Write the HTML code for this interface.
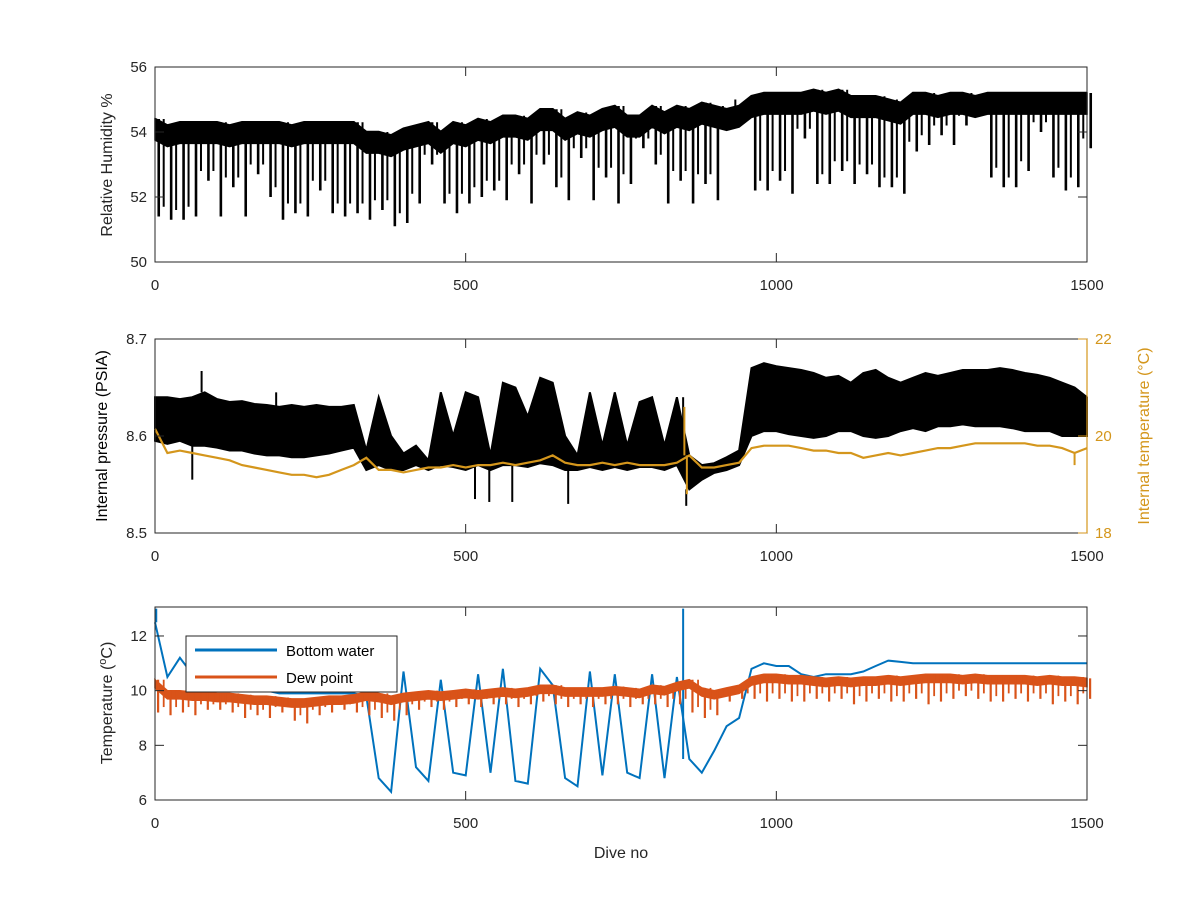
<!DOCTYPE html>
<html><head><meta charset="utf-8">
<style>
html,body{margin:0;padding:0;background:#fff;}
svg{display:block;font-family:"Liberation Sans",Arial,sans-serif;}
</style></head>
<body>
<svg id="fig" width="1200" height="900" viewBox="0 0 1200 900" xmlns="http://www.w3.org/2000/svg">
<rect width="1200" height="900" fill="#fff"/>
</svg>
<script>
// Data sampled every 20 dives (0..1500)
const rhTop = [54.4,54.2,54.3,54.3,54.3,54.3,54.2,54.3,54.3,54.3,
54.3,54.2,54.3,54.3,54.3,54.3,54.3,54.0,54.0,53.9,
54.1,54.2,54.3,54.0,54.3,54.2,54.4,54.3,54.5,54.5,
54.4,54.7,54.7,54.4,54.6,54.5,54.7,54.8,54.5,54.5,
54.8,54.6,54.8,54.7,54.9,54.8,54.7,54.8,55.1,55.2,
55.2,55.2,55.2,55.3,55.2,55.3,55.1,55.1,55.1,55.0,
54.9,55.2,55.2,55.1,55.2,55.2,55.1,55.2,55.2,55.2,
55.2,55.2,55.2,55.2,55.2,55.2];
const rhLow = [51.4,51.3,51.3,51.4,52.5,51.4,52.3,51.4,52.7,52.0,
51.3,51.5,51.4,52.2,51.5,51.4,51.5,51.3,51.6,51.1,
51.2,51.8,53.0,51.8,51.5,51.8,52.0,52.2,51.9,52.7,
51.8,53.0,52.3,51.9,53.2,51.9,52.6,51.8,52.4,53.5,
53.0,51.8,52.5,51.8,52.4,51.9,54.3,54.7,52.2,52.2,
52.5,52.1,53.8,52.4,52.4,52.8,52.4,52.7,52.3,52.3,
52.1,53.4,53.6,53.9,53.6,54.2,54.8,52.6,52.3,52.3,
52.8,54.0,52.6,52.2,52.3,53.5];
const presUpper = [8.640,8.640,8.638,8.640,8.645,8.638,8.635,8.636,8.633,8.632,
8.630,8.632,8.630,8.632,8.630,8.630,8.632,8.585,8.640,8.600,
8.582,8.590,8.575,8.645,8.600,8.645,8.640,8.580,8.655,8.650,
8.620,8.660,8.655,8.600,8.580,8.645,8.590,8.645,8.590,8.635,
8.640,8.590,8.640,8.580,8.570,8.572,8.578,8.585,8.670,8.675,
8.672,8.670,8.668,8.665,8.660,8.662,8.655,8.665,8.668,8.660,
8.655,8.660,8.665,8.662,8.665,8.668,8.668,8.668,8.670,8.668,
8.665,8.663,8.660,8.655,8.650,8.640];
const presLower = [8.595,8.592,8.595,8.590,8.590,8.588,8.585,8.585,8.582,8.580,
8.580,8.578,8.578,8.580,8.582,8.585,8.588,8.565,8.570,8.565,
8.565,8.570,8.565,8.570,8.568,8.565,8.570,8.565,8.570,8.570,
8.568,8.572,8.570,8.565,8.565,8.568,8.565,8.568,8.565,8.568,
8.568,8.565,8.570,8.545,8.555,8.562,8.565,8.570,8.600,8.605,
8.605,8.602,8.600,8.598,8.600,8.605,8.605,8.600,8.598,8.600,
8.605,8.608,8.605,8.610,8.610,8.612,8.610,8.610,8.610,8.608,
8.605,8.605,8.605,8.600,8.600,8.600];
const presSpikeDive = [75,195,60,515,538,575,665,855,850];
const presSpikeVal = [8.667,8.645,8.555,8.535,8.532,8.532,8.530,8.528,8.640];
const tempInt = [20.15,19.65,19.7,19.65,19.6,19.55,19.5,19.4,19.35,19.3,
19.25,19.2,19.2,19.15,19.2,19.3,19.4,19.55,19.3,19.3,
19.25,19.3,19.35,19.35,19.4,19.35,19.4,19.4,19.45,19.4,
19.45,19.5,19.6,19.45,19.4,19.4,19.45,19.4,19.45,19.4,
19.4,19.4,19.45,19.6,19.35,19.35,19.4,19.45,19.75,19.8,
19.8,19.8,19.75,19.7,19.7,19.65,19.65,19.55,19.6,19.65,
19.6,19.65,19.7,19.75,19.75,19.8,19.85,19.85,19.85,19.85,
19.85,19.8,19.8,19.75,19.65,19.75];
const tempSpikeDive = [852,856,1480];
const tempSpikeVal = [20.6,18.8,19.4];
const bottomWater = [12.5,10.5,11.2,10.6,10.3,10.2,10.1,10.1,10.0,10.0,
9.9,9.9,9.9,9.9,9.9,9.9,9.9,9.8,6.8,6.3,
10.7,7.2,6.7,10.4,7.0,6.9,10.6,7.0,10.8,6.7,
6.6,10.8,10.2,6.8,6.5,10.7,6.9,10.6,7.0,6.8,
10.6,6.8,10.5,7.5,7.0,7.8,8.7,9.0,10.8,11.0,
10.9,10.9,10.6,10.5,10.6,10.6,10.6,10.7,10.9,11.1,
11.05,11.0,11.0,11.0,11.0,11.0,11.0,11.0,11.0,11.0,
11.0,11.0,11.0,11.0,11.0,11.0];
const bwSpikeDive = [2,850];
const bwSpikeVal = [13,13];
const dewTop = [10.4,10.0,10.0,9.95,9.95,9.9,9.9,9.85,9.8,9.8,
9.75,9.7,9.7,9.75,9.8,9.8,9.85,9.95,9.9,9.8,
9.9,9.95,10.0,9.95,10.0,10.05,10.0,10.05,10.1,10.05,
10.1,10.2,10.2,10.1,10.1,10.1,10.1,10.15,10.1,10.05,
10.2,10.15,10.3,10.4,10.1,10.0,10.1,10.2,10.5,10.6,
10.6,10.55,10.55,10.5,10.45,10.5,10.45,10.5,10.5,10.55,
10.5,10.55,10.6,10.6,10.6,10.55,10.6,10.55,10.55,10.55,
10.55,10.5,10.55,10.5,10.5,10.45];
const dewLow = [9.2,9.1,9.2,9.1,9.3,9.3,9.2,9.0,9.1,9.0,
9.2,8.9,8.8,9.1,9.2,9.3,9.2,9.1,9.0,8.9,
9.1,9.3,9.4,9.3,9.4,9.5,9.4,9.5,9.5,9.4,
9.5,9.6,9.5,9.4,9.5,9.4,9.5,9.5,9.4,9.5,
9.5,9.4,9.5,9.2,9.0,9.1,9.6,9.7,9.7,9.6,
9.7,9.6,9.6,9.7,9.6,9.7,9.5,9.6,9.7,9.6,
9.6,9.7,9.5,9.6,9.7,9.8,9.7,9.6,9.6,9.7,
9.6,9.7,9.5,9.6,9.5,9.7];
const xTicks = [0,500,1000,1500];
const rhTicks = [50,52,54,56];
const presTicks = [8.5,8.6,8.7];
const tiTicks = [18,20,22];
const tempTicks = [6,8,10,12];
const STEP = 20;

const NS = "http://www.w3.org/2000/svg";
const svg = document.getElementById('fig');
const X0 = 155, X1 = 1087;
function xs(d){ return X0 + (d/1500)*(X1-X0); }
function mk(tag, attrs, parent){
  const e = document.createElementNS(NS, tag);
  for (const k in attrs) e.setAttribute(k, attrs[k]);
  (parent||svg).appendChild(e);
  return e;
}
function yScale(y0,y1,v0,v1){ return v => y1 - (v-v0)/(v1-v0)*(y1-y0); }
function pts(arr, ys){ return arr.map((v,i)=> xs(i*STEP).toFixed(1)+','+ys(v).toFixed(1)).join(' '); }
function bandPts(top, bot, ys){
  const a = top.map((v,i)=> xs(i*STEP).toFixed(1)+','+ys(v).toFixed(1));
  const b = bot.map((v,i)=> xs(i*STEP).toFixed(1)+','+ys(v).toFixed(1)).reverse();
  return a.concat(b).join(' ');
}
function text(x,y,s,opts,name){
  const t = mk('text', Object.assign({x:x,y:y,'font-size':15,fill:'#262626'}, opts||{}));
  t.textContent = s;
  
  
  return t;
}
function axesBox(name, yT, yB, yticksL, ysL, yticksR, ysR, rColor){
  const g = mk('g', {});
  
  
  mk('rect', {x:X0,y:yT,width:X1-X0,height:yB-yT,fill:'none',stroke:'#262626','stroke-width':1}, g);
  xTicks.forEach(t=>{
    const x = xs(t);
    mk('line',{x1:x,x2:x,y1:yB,y2:yB-9,stroke:'#262626'},g);
    mk('line',{x1:x,x2:x,y1:yT,y2:yT+9,stroke:'#262626'},g);
    text(x, yB+28, String(t), {'text-anchor':'middle'}, name+'-x-tick-label');
  });
  yticksL.forEach(t=>{
    const y = ysL(t);
    mk('line',{x1:X0,x2:X0+9,y1:y,y2:y,stroke:'#262626'},g);
    if (!yticksR) mk('line',{x1:X1,x2:X1-9,y1:y,y2:y,stroke:'#262626'},g);
    text(X0-8, y+5, String(t), {'text-anchor':'end'}, name+'-y-tick-label');
  });
  if (yticksR){
    mk('line',{x1:X1,x2:X1,y1:yT,y2:yB,stroke:rColor,'stroke-width':1.2},g);
    yticksR.forEach(t=>{
      const y = ysR(t);
      mk('line',{x1:X1,x2:X1-9,y1:y,y2:y,stroke:rColor},g);
      text(X1+8, y+5, String(t), {fill:rColor}, name+'-right-tick-label');
    });
  }
}

// ---------- Panel 1: Relative humidity ----------
const y1s = yScale(67,262,50,56);
(function(){
  const g = mk('g',{});
  
  
  const dense = rhTop.map(v=>v-0.65);
  mk('polygon',{points:bandPts(rhTop,dense,y1s),fill:'#000',stroke:'#000','stroke-width':1.5},g);
  rhLow.forEach((v,i)=>{
    const x = xs(i*STEP+6);
    const l = mk('line',{x1:x,x2:x,y1:y1s(rhTop[i]),y2:y1s(v),stroke:'#000','stroke-width':2.6},g);
    
    
    if (i < rhLow.length-1){
      const x2 = xs(i*STEP+14), v2 = (rhTop[i]+v)/2;
      mk('line',{x1:x2,x2:x2,y1:y1s(rhTop[i]),y2:y1s(Math.max(v, rhLow[i+1])+0.3),stroke:'#000','stroke-width':2},g);
    }
  });
  mk('polyline',{points:pts(rhTop,y1s),fill:'none',stroke:'#000','stroke-width':2.5},g);
})();
axesBox('humidity', 67, 262, rhTicks, y1s);
text(0,0,'Relative Humidity %',{transform:'translate(112,165) rotate(-90)','text-anchor':'middle','font-size':16},'humidity-y-axis-title');

// ---------- Panel 2: Pressure & internal temperature ----------
const y2s = yScale(339,533,8.5,8.7);
const y2r = yScale(339,533,18,22);
const TCOL = '#D4961C';
(function(){
  const g = mk('g',{});
  
  
  mk('polygon',{points:bandPts(presUpper,presLower,y2s),fill:'#000',stroke:'#000','stroke-width':2},g);
  presSpikeDive.forEach((d,i)=>{
    const x = xs(d);
    const base = presLower[Math.round(d/STEP)];
    const up = presUpper[Math.round(d/STEP)];
    const ref = presSpikeVal[i] > up ? up : base;
    const l = mk('line',{x1:x,x2:x,y1:y2s(ref),y2:y2s(presSpikeVal[i]),stroke:'#000','stroke-width':2},g);
    
    
  });
  const gt = mk('g',{});
  
  
  mk('polyline',{points:pts(tempInt,y2r),fill:'none',stroke:TCOL,'stroke-width':2.2},gt);
  tempSpikeDive.forEach((d,i)=>{
    const x = xs(d);
    const l = mk('line',{x1:x,x2:x,y1:y2r(tempInt[Math.round(d/STEP)]),y2:y2r(tempSpikeVal[i]),stroke:TCOL,'stroke-width':2},gt);
    
    
  });
})();
axesBox('pressure', 339, 533, presTicks, y2s, tiTicks, y2r, TCOL);
text(0,0,'Internal pressure (PSIA)',{transform:'translate(107,436) rotate(-90)','text-anchor':'middle','font-size':16,fill:'#000'},'pressure-y-axis-title');
text(0,0,'Internal temperature (°C)',{transform:'translate(1149,436) rotate(-90)','text-anchor':'middle','font-size':16,fill:TCOL},'internal-temperature-axis-title');

// ---------- Panel 3: Temperatures ----------
const y3s = yScale(607,800,6,13.06);
const BLUE = '#0072BD', ORANGE = '#D95319';
(function(){
  const gb = mk('g',{});
  
  
  mk('polyline',{points:pts(bottomWater,y3s),fill:'none',stroke:BLUE,'stroke-width':2},gb);
  bwSpikeDive.forEach((d,i)=>{
    const x = xs(d);
    const l = mk('line',{x1:x,x2:x,y1:y3s(bottomWater[Math.round(d/STEP)]),y2:y3s(bwSpikeVal[i]),stroke:BLUE,'stroke-width':2},gb);
    
    
  });
  const go = mk('g',{});
  
  
  const dense = dewTop.map(v=>v-0.3);
  mk('polygon',{points:bandPts(dewTop,dense,y3s),fill:ORANGE,stroke:ORANGE,'stroke-width':1.5},go);
  dewLow.forEach((v,i)=>{
    const x = xs(i*STEP+5);
    const l = mk('line',{x1:x,x2:x,y1:y3s(dewTop[i]),y2:y3s(v),stroke:ORANGE,'stroke-width':2.2},go);
    
    
    if (i < dewLow.length-1){
      const x2 = xs(i*STEP+14);
      mk('line',{x1:x2,x2:x2,y1:y3s(dewTop[i]),y2:y3s(Math.max(v,dewLow[i+1])+0.2),stroke:ORANGE,'stroke-width':1.8},go);
    }
  });
})();
axesBox('temperature', 607, 800, tempTicks, y3s);
(function(){
  const t = mk('text',{transform:'translate(112,703) rotate(-90)','text-anchor':'middle','font-size':16,fill:'#262626'});
  
  
  t.appendChild(document.createTextNode('Temperature ('));
  const s = mk('tspan',{'font-size':11,dy:-6},t); s.textContent='o';
  const s2 = mk('tspan',{dy:6},t); s2.textContent='C)';
})();
text(621,858,'Dive no',{'text-anchor':'middle','font-size':16},'x-axis-title');

// legend
(function(){
  const g = mk('g',{});
  
  
  mk('rect',{x:186,y:636,width:211,height:56,fill:'#fff',stroke:'#262626','stroke-width':1},g);
  const e1 = mk('g',{},g);
  
  
  mk('line',{x1:195,x2:277,y1:650,y2:650,stroke:BLUE,'stroke-width':3},e1);
  const t1 = mk('text',{x:286,y:656,'font-size':15,fill:'#000'},e1); t1.textContent='Bottom water';
  const e2 = mk('g',{},g);
  
  
  mk('line',{x1:195,x2:277,y1:677,y2:677,stroke:ORANGE,'stroke-width':3},e2);
  const t2 = mk('text',{x:286,y:683,'font-size':15,fill:'#000'},e2); t2.textContent='Dew point';
})();
</script>
</body></html>
